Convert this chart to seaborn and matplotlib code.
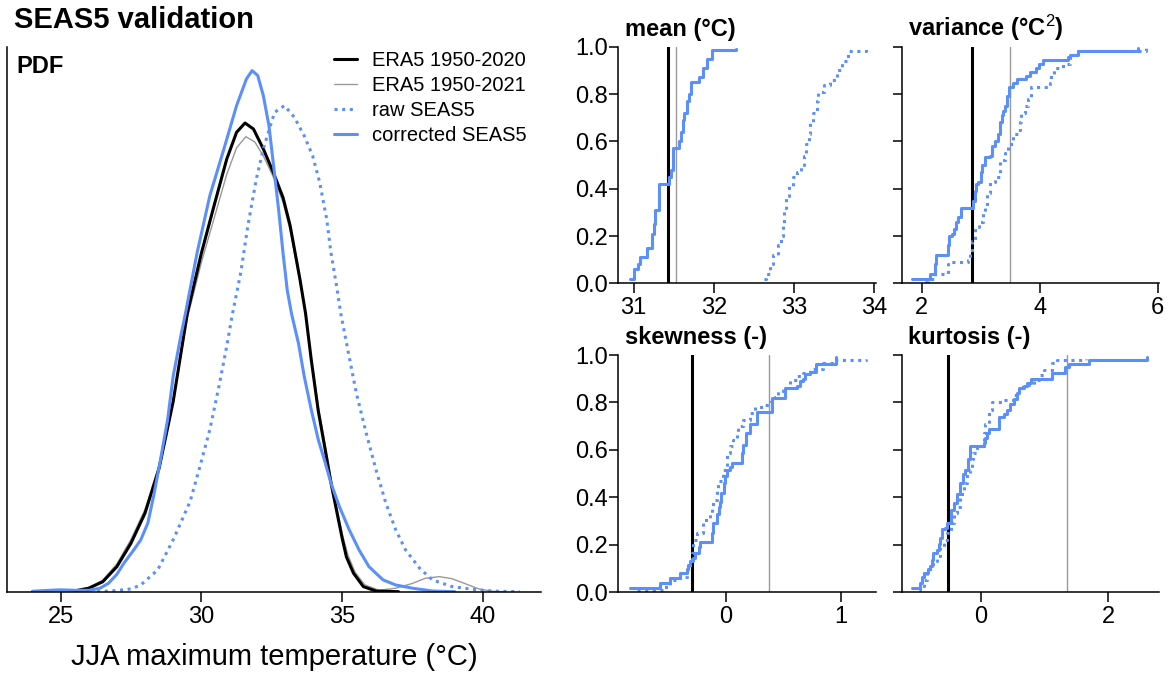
import matplotlib
matplotlib.use('Agg')
import matplotlib.pyplot as plt
import seaborn as sns

# colours / line styles
BLUE = '#5B8FF9'
GRAY = '#999999'
DOT = (0, (1, 1.5))

# ---- PDF panel: density curves ----
pdf_x_era5_2020 = [25.5, 26.0, 26.5, 27.0, 27.5, 28.0, 28.5, 29.0, 29.5, 30.0, 30.45, 30.9,
                   31.25, 31.55, 31.85, 32.2, 32.55, 32.9, 33.15, 33.5, 33.7, 33.9, 34.15,
                   34.4, 34.6, 34.8, 35.0, 35.15, 35.4, 35.75, 36.2, 37.0]
pdf_era5_2020 = [0.0003, 0.0015, 0.0043, 0.0108, 0.0209, 0.0339, 0.0533, 0.0821, 0.120, 0.146,
                 0.1665, 0.1866, 0.1982, 0.2022, 0.1996, 0.191, 0.181, 0.170, 0.158, 0.1348,
                 0.120, 0.1002, 0.078, 0.061, 0.047, 0.035, 0.023, 0.015, 0.008, 0.0022,
                 0.0003, 0.0]

pdf_x_era5_2021 = [25.4, 26.0, 26.5, 27.0, 27.5, 28.0, 28.5, 29.0, 29.5, 30.0, 30.45, 30.9,
                   31.25, 31.58, 31.9, 32.2, 32.55, 32.9, 33.15, 33.5, 33.7, 33.9, 34.15,
                   34.4, 34.6, 34.8, 35.0, 35.2, 35.45, 35.8, 36.3, 36.9, 37.5, 37.95,
                   38.45, 38.9, 39.4, 39.85, 40.3, 40.8]
pdf_era5_2021 = [0.0004, 0.0018, 0.0050, 0.0120, 0.0225, 0.0355, 0.0545, 0.0825, 0.118, 0.142,
                 0.161, 0.180, 0.1915, 0.1963, 0.194, 0.188, 0.179, 0.168, 0.156, 0.134,
                 0.120, 0.101, 0.080, 0.063, 0.049, 0.037, 0.025, 0.016, 0.0085, 0.003,
                 0.0006, 0.0015, 0.0036, 0.0058, 0.0065, 0.0056, 0.0033, 0.0012, 0.0002, 0.0]

pdf_x_raw = [26.3, 27.0, 27.5, 27.85, 28.45, 29.0, 29.6, 29.95, 30.3, 30.65, 30.9, 31.1, 31.4,
             31.65, 31.95, 32.2, 32.45, 32.6, 32.95, 33.3, 33.65, 33.95, 34.2, 34.45, 34.6,
             34.8, 34.95, 35.15, 35.5, 35.85, 36.2, 36.55, 36.9, 37.25, 37.75, 38.2, 38.9,
             39.85, 40.5, 41.3]
pdf_raw = [0.0, 0.0005, 0.0012, 0.0029, 0.0094, 0.0224, 0.0389, 0.054, 0.0699, 0.0901, 0.1059,
           0.1196, 0.1377, 0.1578, 0.178, 0.191, 0.201, 0.2068, 0.2097, 0.2047, 0.1967, 0.1881,
           0.1766, 0.1607, 0.1463, 0.1319, 0.120, 0.1074, 0.0858, 0.0685, 0.0526, 0.0382,
           0.0267, 0.018, 0.0101, 0.0051, 0.0022, 0.0007, 0.0002, 0.0]

pdf_x_corr = [24.0, 24.6, 25.0, 25.5, 26.0, 26.4, 26.7, 27.0, 27.25, 27.6, 27.85, 28.1, 28.3,
              28.55, 28.8, 29.0, 29.25, 29.45, 29.85, 30.3, 30.8, 31.25, 31.6, 31.8, 32.0,
              32.2, 32.4, 32.55, 32.75, 32.9, 33.05, 33.2, 33.45, 33.65, 33.9, 34.15, 34.4,
              34.6, 34.9, 35.25, 35.6, 35.95, 36.45, 36.9, 37.5, 38.2, 39.0]
pdf_corr = [0.0002, 0.0006, 0.0008, 0.0006, 0.0006, 0.0015, 0.0036, 0.0075, 0.0123, 0.018,
            0.0224, 0.0296, 0.041, 0.057, 0.074, 0.093, 0.109, 0.121, 0.1463, 0.1708, 0.191,
            0.2097, 0.2212, 0.2248, 0.2227, 0.214, 0.201, 0.1852, 0.164, 0.146, 0.130, 0.120,
            0.107, 0.093, 0.0786, 0.0656, 0.0555, 0.0469, 0.0367, 0.0267, 0.018, 0.0108,
            0.0051, 0.0029, 0.0015, 0.0003, 0.0]

# ---- ECDF panels: step positions and levels ----
mean_corr_x = [30.95, 31.0, 31.06, 31.08, 31.17, 31.23, 31.25, 31.27, 31.32, 31.44, 31.47,
               31.49, 31.57, 31.59, 31.61, 31.63, 31.66, 31.69, 31.71, 31.81, 31.87, 31.91,
               31.98, 32.27]
mean_corr_y = [0.02, 0.06, 0.08, 0.11, 0.15, 0.21, 0.25, 0.31, 0.42, 0.45, 0.48, 0.57, 0.60,
               0.64, 0.69, 0.72, 0.77, 0.80, 0.85, 0.87, 0.91, 0.95, 0.985, 0.99]
mean_raw_x = [32.62, 32.65, 32.7, 32.74, 32.8, 32.84, 32.86, 32.88, 32.9, 32.93, 32.98, 33.04,
              33.08, 33.12, 33.15, 33.18, 33.2, 33.24, 33.28, 33.3, 33.37, 33.45, 33.53,
              33.6, 33.67, 33.9]
mean_raw_y = [0.02, 0.04, 0.08, 0.12, 0.16, 0.2, 0.25, 0.32, 0.37, 0.41, 0.45, 0.47, 0.5,
              0.54, 0.59, 0.63, 0.68, 0.72, 0.77, 0.81, 0.84, 0.86, 0.9, 0.94, 0.98, 0.99]

var_corr_x = [1.83, 2.14, 2.23, 2.25, 2.45, 2.47, 2.51, 2.54, 2.58, 2.62, 2.66, 2.87, 2.9,
              2.92, 2.96, 3.0, 3.02, 3.07, 3.15, 3.2, 3.25, 3.3, 3.32, 3.36, 3.38, 3.41,
              3.45, 3.48, 3.55, 3.61, 3.77, 3.83, 3.94, 3.99, 4.06, 4.48, 4.51, 4.65, 5.66]
var_corr_y = [0.02, 0.04, 0.08, 0.12, 0.16, 0.2, 0.21, 0.23, 0.26, 0.28, 0.32, 0.35, 0.39,
              0.42, 0.43, 0.47, 0.5, 0.535, 0.54, 0.58, 0.6, 0.63, 0.68, 0.71, 0.73, 0.75,
              0.79, 0.83, 0.845, 0.865, 0.875, 0.895, 0.91, 0.925, 0.945, 0.955, 0.965,
              0.98, 0.995]
var_raw_x = [2.06, 2.11, 2.23, 2.45, 2.5, 2.79, 2.82, 2.86, 2.9, 2.97, 3.04, 3.07, 3.1, 3.15,
             3.24, 3.32, 3.41, 3.46, 3.55, 3.63, 3.66, 3.69, 3.75, 3.8, 3.86, 4.17, 4.2,
             4.25, 4.39, 4.51, 4.65, 5.8]
var_raw_y = [0.01, 0.02, 0.04, 0.08, 0.09, 0.1, 0.13, 0.18, 0.24, 0.26, 0.3, 0.32, 0.38,
             0.43, 0.45, 0.52, 0.55, 0.59, 0.63, 0.65, 0.68, 0.72, 0.75, 0.78, 0.83, 0.845,
             0.88, 0.91, 0.925, 0.965, 0.98, 0.995]

skew_corr_x = [-0.84, -0.58, -0.49, -0.4, -0.34, -0.33, -0.31, -0.29, -0.27, -0.24, -0.23,
               -0.125, -0.115, -0.08, -0.065, -0.05, -0.04, -0.02, -0.01, 0.005, 0.035, 0.05,
               0.14, 0.15, 0.175, 0.21, 0.27, 0.40, 0.515, 0.62, 0.645, 0.675, 0.69, 0.735,
               0.79, 0.965]
skew_corr_y = [0.02, 0.04, 0.06, 0.08, 0.1, 0.115, 0.13, 0.145, 0.165, 0.19, 0.21, 0.25,
               0.29, 0.33, 0.36, 0.38, 0.42, 0.46, 0.49, 0.515, 0.53, 0.545, 0.585, 0.62,
               0.67, 0.71, 0.76, 0.82, 0.86, 0.87, 0.89, 0.90, 0.92, 0.93, 0.96, 0.99]
skew_raw_x = [-0.78, -0.52, -0.49, -0.4, -0.34, -0.31, -0.3, -0.285, -0.256, -0.2, -0.14,
              -0.125, -0.11, -0.08, -0.067, -0.023, 0.006, 0.035, 0.064, 0.093, 0.108, 0.151,
              0.209, 0.253, 0.326, 0.384, 0.427, 0.456, 0.5, 0.558, 0.616, 0.674, 0.733,
              0.849, 0.965, 1.227]
skew_raw_y = [0.01, 0.03, 0.05, 0.065, 0.095, 0.115, 0.165, 0.22, 0.25, 0.305, 0.335, 0.36,
              0.39, 0.43, 0.47, 0.515, 0.585, 0.615, 0.64, 0.67, 0.7, 0.725, 0.755, 0.78,
              0.79, 0.8, 0.825, 0.85, 0.86, 0.895, 0.91, 0.925, 0.94, 0.965, 0.98, 0.985]

kurt_corr_x = [-1.09, -0.96, -0.93, -0.9, -0.83, -0.8, -0.775, -0.75, -0.695, -0.67, -0.64,
               -0.615, -0.56, -0.54, -0.48, -0.43, -0.38, -0.33, -0.285, -0.25, -0.21, -0.18,
               -0.17, 0.04, 0.07, 0.095, 0.12, 0.28, 0.36, 0.41, 0.46, 0.515, 0.57, 0.595,
               0.675, 0.725, 0.78, 1.12, 1.33, 1.385, 1.7, 2.62]
kurt_corr_y = [0.02, 0.04, 0.065, 0.08, 0.1, 0.11, 0.135, 0.165, 0.18, 0.205, 0.23, 0.265,
               0.27, 0.29, 0.345, 0.375, 0.415, 0.46, 0.5, 0.515, 0.56, 0.585, 0.615, 0.63,
               0.65, 0.67, 0.69, 0.74, 0.75, 0.77, 0.795, 0.815, 0.84, 0.86, 0.87, 0.88, 0.9,
               0.925, 0.95, 0.96, 0.98, 0.99]
kurt_raw_x = [-0.98, -0.96, -0.9, -0.85, -0.8, -0.75, -0.7, -0.64, -0.59, -0.54, -0.48,
              -0.43, -0.38, -0.33, -0.27, -0.22, -0.17, -0.14, -0.12, -0.06, 0.04, 0.07,
              0.12, 0.17, 0.36, 0.52, 0.6, 0.7, 0.83, 0.91, 0.99, 1.12, 1.2, 1.65]
kurt_raw_y = [0.01, 0.025, 0.05, 0.08, 0.11, 0.13, 0.155, 0.19, 0.22, 0.25, 0.29, 0.335,
              0.36, 0.415, 0.46, 0.5, 0.515, 0.56, 0.585, 0.615, 0.67, 0.71, 0.77, 0.8,
              0.81, 0.83, 0.865, 0.875, 0.895, 0.915, 0.935, 0.965, 0.98, 0.985]

# observed statistics (vertical lines): ERA5 1950-2020, ERA5 1950-2021
mean_obs = [31.43, 31.53]
var_obs = [2.855, 3.49]
skew_obs = [-0.294, 0.378]
kurt_obs = [-0.528, 1.358]

# ---- style ----
sns.set_theme(style='ticks', rc={
    'axes.edgecolor': 'black', 'xtick.color': 'black', 'ytick.color': 'black',
    'text.color': 'black', 'axes.labelcolor': 'black',
    'axes.linewidth': 1.1, 'xtick.major.width': 1.1, 'ytick.major.width': 1.1,
    'xtick.major.size': 7, 'ytick.major.size': 6.5,
    'xtick.labelsize': 17, 'ytick.labelsize': 17,
})
plt.rcParams['font.family'] = ['Liberation Sans', 'DejaVu Sans']
plt.rcParams['mathtext.fontset'] = 'custom'
plt.rcParams['mathtext.rm'] = 'Liberation Sans'
plt.rcParams['mathtext.it'] = 'Liberation Sans:italic'
plt.rcParams['mathtext.bf'] = 'Liberation Sans:bold'

fig = plt.figure(figsize=(11.68, 6.73), dpi=100)

# ---- left: PDF ----
ax = fig.add_axes([0.006, 0.1208, 0.457, 0.8094])
sns.lineplot(x=pdf_x_era5_2021, y=pdf_era5_2021, ax=ax, color=GRAY, lw=1.0,
             estimator=None, sort=False, label='ERA5 1950-2021')
sns.lineplot(x=pdf_x_era5_2020, y=pdf_era5_2020, ax=ax, color='black', lw=2.2,
             estimator=None, sort=False, label='ERA5 1950-2020')
sns.lineplot(x=pdf_x_raw, y=pdf_raw, ax=ax, color=BLUE, lw=2.2, linestyle=DOT,
             estimator=None, sort=False, label='raw SEAS5')
sns.lineplot(x=pdf_x_corr, y=pdf_corr, ax=ax, color=BLUE, lw=2.2,
             estimator=None, sort=False, label='corrected SEAS5')
ax.set_xlim(23.1, 42.05)
ax.set_ylim(0, 0.235)
ax.set_xticks([25, 30, 35, 40])
ax.set_yticks([])
ax.set_xlabel('')
ax.set_ylabel('')
ax.tick_params(axis='x', pad=3)
sns.despine(ax=ax)
ax.text(0.017, 0.952, 'PDF', transform=ax.transAxes, fontsize=17,
        fontweight='bold', va='baseline')

handles, labels = ax.get_legend_handles_labels()
order = [1, 0, 2, 3]
ax.legend([handles[i] for i in order], [labels[i] for i in order],
          loc='upper left', bbox_to_anchor=(0.612, 0.992), frameon=False,
          fontsize=14.5, handlelength=1.15, handletextpad=0.77,
          labelspacing=0.3, borderpad=0, borderaxespad=0)

fig.text(274 / 1168, 1 - 665 / 673, 'JJA maximum temperature (°C)',
         ha='center', va='baseline', fontsize=21)
fig.text(14 / 1168, 1 - 28.3 / 673, 'SEAS5 validation', fontsize=21,
         fontweight='bold', va='baseline')


# ---- right: ECDFs of the statistics ----
def ecdf_panel(rect, corr_x, corr_y, raw_x, raw_y, obs, xlim, xticks, title, ylabels):
    a = fig.add_axes(rect)
    a.axvline(obs[1], color=GRAY, lw=1.0, zorder=1)
    a.axvline(obs[0], color='black', lw=2.2, zorder=1)
    sns.lineplot(x=raw_x, y=raw_y, ax=a, color=BLUE, lw=2.2, linestyle=DOT,
                 drawstyle='steps-post', estimator=None, sort=False)
    sns.lineplot(x=corr_x, y=corr_y, ax=a, color=BLUE, lw=2.2,
                 drawstyle='steps-post', estimator=None, sort=False)
    a.set_xlim(*xlim)
    a.set_ylim(0, 1)
    a.set_xticks(xticks)
    a.set_yticks([0, 0.2, 0.4, 0.6, 0.8, 1.0])
    if ylabels:
        a.set_yticklabels(['0.0', '0.2', '0.4', '0.6', '0.8', '1.0'])
    else:
        a.set_yticklabels([])
    a.tick_params(axis='x', pad=3)
    a.tick_params(axis='y', pad=1)
    a.set_xlabel('')
    a.set_ylabel('')
    sns.despine(ax=a)
    a.text(0.026, 1.045, title, transform=a.transAxes, fontsize=17,
           fontweight='bold', va='baseline')
    return a


ecdf_panel([0.5294, 0.579, 0.2206, 0.3516], mean_corr_x, mean_corr_y, mean_raw_x,
           mean_raw_y, mean_obs, (30.81, 34.02), [31, 32, 33, 34], 'mean (°C)', True)
ecdf_panel([0.772, 0.579, 0.2206, 0.3516], var_corr_x, var_corr_y, var_raw_x,
           var_raw_y, var_obs, (1.66, 6.03), [2, 4, 6], 'variance (°C$^{2}$)', False)
ecdf_panel([0.5294, 0.1199, 0.2206, 0.3526], skew_corr_x, skew_corr_y, skew_raw_x,
           skew_raw_y, skew_obs, (-0.94, 1.31), [0, 1], 'skewness (-)', True)
ecdf_panel([0.772, 0.1199, 0.2206, 0.3526], kurt_corr_x, kurt_corr_y, kurt_raw_x,
           kurt_raw_y, kurt_obs, (-1.25, 2.81), [0, 2], 'kurtosis (-)', False)

plt.savefig('out.png', dpi=100)
